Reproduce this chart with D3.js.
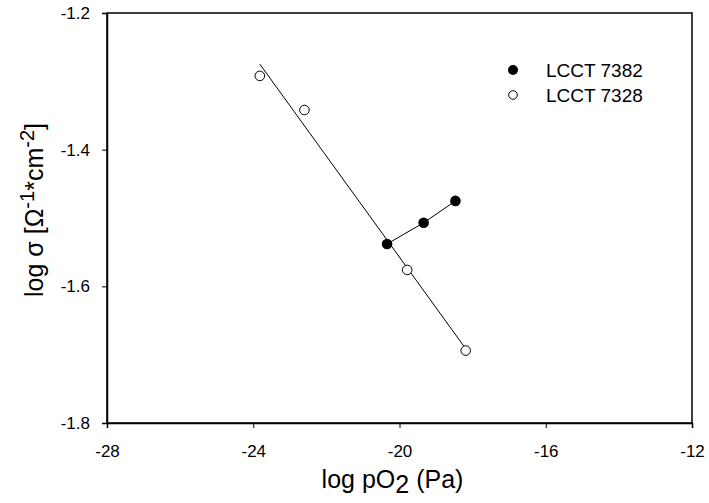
<!DOCTYPE html>
<html>
<head>
<meta charset="utf-8">
<script src="https://cdn.jsdelivr.net/npm/d3@7"></script>
<style>
  html, body { margin: 0; padding: 0; background: #fff; }
  svg { display: block; font-family: "Liberation Sans", Arial, sans-serif; }
</style>
</head>
<body>
<svg id="chart" width="709" height="503"></svg>
<script>
// log pO2 (Pa) and log conductivity for the two samples
const sample7382X = [-20.34, -19.34, -18.47];
const sample7382Y = [-1.538, -1.507, -1.475];
const sample7328X = [-23.82, -22.60, -19.79, -18.19];
const sample7328Y = [-1.292, -1.342, -1.576, -1.694];
const seriesNames = ["LCCT 7382", "LCCT 7328"];
const xTicks = [-28, -24, -20, -16, -12];
const yTicks = [-1.2, -1.4, -1.6, -1.8];

const svg = d3.select("#chart");
const m = { left: 107, right: 692, top: 13, bottom: 423 };

const x = d3.scaleLinear().domain([-28, -12]).range([m.left, m.right]);
const y = d3.scaleLinear().domain([-1.8, -1.2]).range([m.bottom, m.top]);

// plain hyphen for negative numbers
const fmtX = d => String(d);
const fmtY = d => d.toFixed(1);

// plot frame
svg.append("rect")
  .attr("x", m.left).attr("y", m.top)
  .attr("width", m.right - m.left).attr("height", m.bottom - m.top)
  .attr("fill", "none").attr("stroke", "#000").attr("stroke-width", 1.5);

// axes
const xAxis = svg.append("g")
  .attr("transform", `translate(0,${m.bottom})`)
  .call(d3.axisBottom(x).tickValues(xTicks).tickSize(5).tickPadding(17).tickFormat(fmtX));
const yAxis = svg.append("g")
  .attr("transform", `translate(${m.left},0)`)
  .call(d3.axisLeft(y).tickValues(yTicks).tickSize(5).tickPadding(12).tickFormat(fmtY));
[xAxis, yAxis].forEach(g => {
  g.select(".domain").attr("stroke", "#000").attr("stroke-width", 1.5);
  g.selectAll(".tick line").attr("stroke", "#000").attr("stroke-width", 1);
  g.selectAll(".tick text").attr("fill", "#000")
    .style("font-size", "17px").style("font-family", "'Liberation Sans', Arial, sans-serif");
});

// least-squares fit for LCCT 7328 across its measured range
const n = sample7328X.length;
const mx = d3.mean(sample7328X), my = d3.mean(sample7328Y);
let sxy = 0, sxx = 0;
for (let i = 0; i < n; i++) {
  sxy += (sample7328X[i] - mx) * (sample7328Y[i] - my);
  sxx += (sample7328X[i] - mx) ** 2;
}
const slope = sxy / sxx, icpt = my - slope * mx;
const fitX = d3.extent(sample7328X);
const line = d3.line().x(d => x(d[0])).y(d => y(d[1]));
svg.append("path")
  .datum(fitX.map(v => [v, icpt + slope * v]))
  .attr("d", line).attr("fill", "none").attr("stroke", "#000").attr("stroke-width", 1);

// LCCT 7382 connecting line
svg.append("path")
  .datum(sample7382X.map((v, i) => [v, sample7382Y[i]]))
  .attr("d", line).attr("fill", "none").attr("stroke", "#000").attr("stroke-width", 1);

// markers
svg.append("g").selectAll("circle")
  .data(sample7328X.map((v, i) => [v, sample7328Y[i]]))
  .join("circle")
  .attr("cx", d => x(d[0])).attr("cy", d => y(d[1])).attr("r", 4.8)
  .attr("fill", "#fff").attr("stroke", "#000").attr("stroke-width", 1);
svg.append("g").selectAll("circle")
  .data(sample7382X.map((v, i) => [v, sample7382Y[i]]))
  .join("circle")
  .attr("cx", d => x(d[0])).attr("cy", d => y(d[1])).attr("r", 5.3)
  .attr("fill", "#000");

// legend
const leg = svg.append("g").attr("transform", "translate(513,70)");
leg.append("circle").attr("cx", 0).attr("cy", 0).attr("r", 5).attr("fill", "#000");
leg.append("circle").attr("cx", 0).attr("cy", 25).attr("r", 4.3)
  .attr("fill", "#fff").attr("stroke", "#000").attr("stroke-width", 1);
leg.selectAll("text").data(seriesNames).join("text")
  .attr("x", 33).attr("y", (d, i) => i * 25 + 6.5)
  .style("font-size", "19px").text(d => d);

// axis titles
const xt = svg.append("text")
  .attr("x", (m.left + m.right) / 2 - 7).attr("y", 488)
  .attr("text-anchor", "middle").style("font-size", "25px");
xt.append("tspan").text("log pO");
xt.append("tspan").attr("dy", 5).text("2");
xt.append("tspan").attr("dy", -5).text(" (Pa)");

const yt = svg.append("text")
  .attr("transform", `translate(43,${(m.top + m.bottom) / 2 - 8}) rotate(-90)`)
  .attr("text-anchor", "middle").style("font-size", "25px");
yt.append("tspan").text("log σ [Ω");
yt.append("tspan").attr("dy", -9).style("font-size", "20px").text("-1");
yt.append("tspan").attr("dy", 9).text("*");
yt.append("tspan").text("cm");
yt.append("tspan").attr("dy", -9).style("font-size", "20px").text("-2");
yt.append("tspan").attr("dy", 9).text("]");
</script>
</body>
</html>
